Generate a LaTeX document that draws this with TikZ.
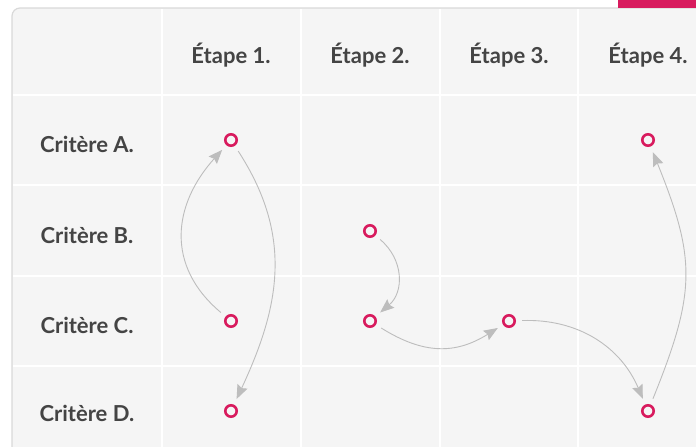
\documentclass[tikz,border=0pt]{standalone}
\usepackage{fontspec}
\setmainfont{Lato}
\usetikzlibrary{arrows.meta}
\definecolor{dotpink}{HTML}{D81B5E}
\definecolor{arrowgray}{HTML}{BDBDBD}
\definecolor{textgray}{HTML}{444444}
\definecolor{panelgray}{HTML}{F5F5F5}
\definecolor{bordergray}{HTML}{D9D9D9}
\begin{document}
\begin{tikzpicture}[x=1pt, y=1pt,
	dot/.style={circle, draw=dotpink, line width=2.6pt, minimum size=11.4pt, inner sep=0pt, outer sep=7.5pt},
	lbl/.style={font=\bfseries\fontsize{22}{26}\selectfont, text=textgray, anchor=base},
	link/.style={draw=arrowgray, line width=0.9pt, -{Stealth[length=14pt, width=11pt, inset=2pt]}}]
		\useasboundingbox (0,0) rectangle (696,-447);
		\fill[white] (0,0) rectangle (696,-447);
		\filldraw[fill=panelgray, draw=bordergray, line width=1.2pt, rounded corners=8pt] (12,-8) rectangle (720,-460);
		\fill[dotpink] (618,0) rectangle (696,-7.5);

		% grid of the table
		\foreach \x in {162,301,440,578}
			\draw[white, line width=1.5pt] (\x,-9) -- (\x,-447);
		\foreach \y in {95,185,276,366}
			\draw[white, line width=1.5pt] (13,-\y) -- (696,-\y);

		\foreach \x/\n in {231/1,370/2,509/3,648/4}
			\node[lbl] (etape\n) at (\x,-63) {Étape \n.};
		\foreach \y/\n in {152/A,243/B,333/C,421/D}
			\node[lbl] (critere\n) at (87,-\y) {Critère \n.};

		\node[dot] (a1) at (231,-140) {};
		\node[dot] (c1) at (231,-321) {};
		\node[dot] (d1) at (231,-411) {};
		\node[dot] (b2) at (370,-231) {};
		\node[dot] (c2) at (370,-321) {};
		\node[dot] (c3) at (509,-321) {};
		\node[dot] (a4) at (648,-140) {};
		\node[dot] (d4) at (648,-411) {};

		\draw[link] (c1) to[out=140, in=228, looseness=1.15] (a1);
		\draw[link] (a1) to[out=-57, in=65, looseness=1.05] (d1);
		\draw[link] (b2) to[out=-40, in=40, looseness=1.1] (c2);
		\draw[link] (c2) to[out=-32, in=212, looseness=1.1] (c3);
		\draw[link] (c3) to[out=2, in=113] (d4);
		\draw[link] (d4) to[out=68, in=292, looseness=1.2] (a4);
	\end{tikzpicture}
\end{document}
